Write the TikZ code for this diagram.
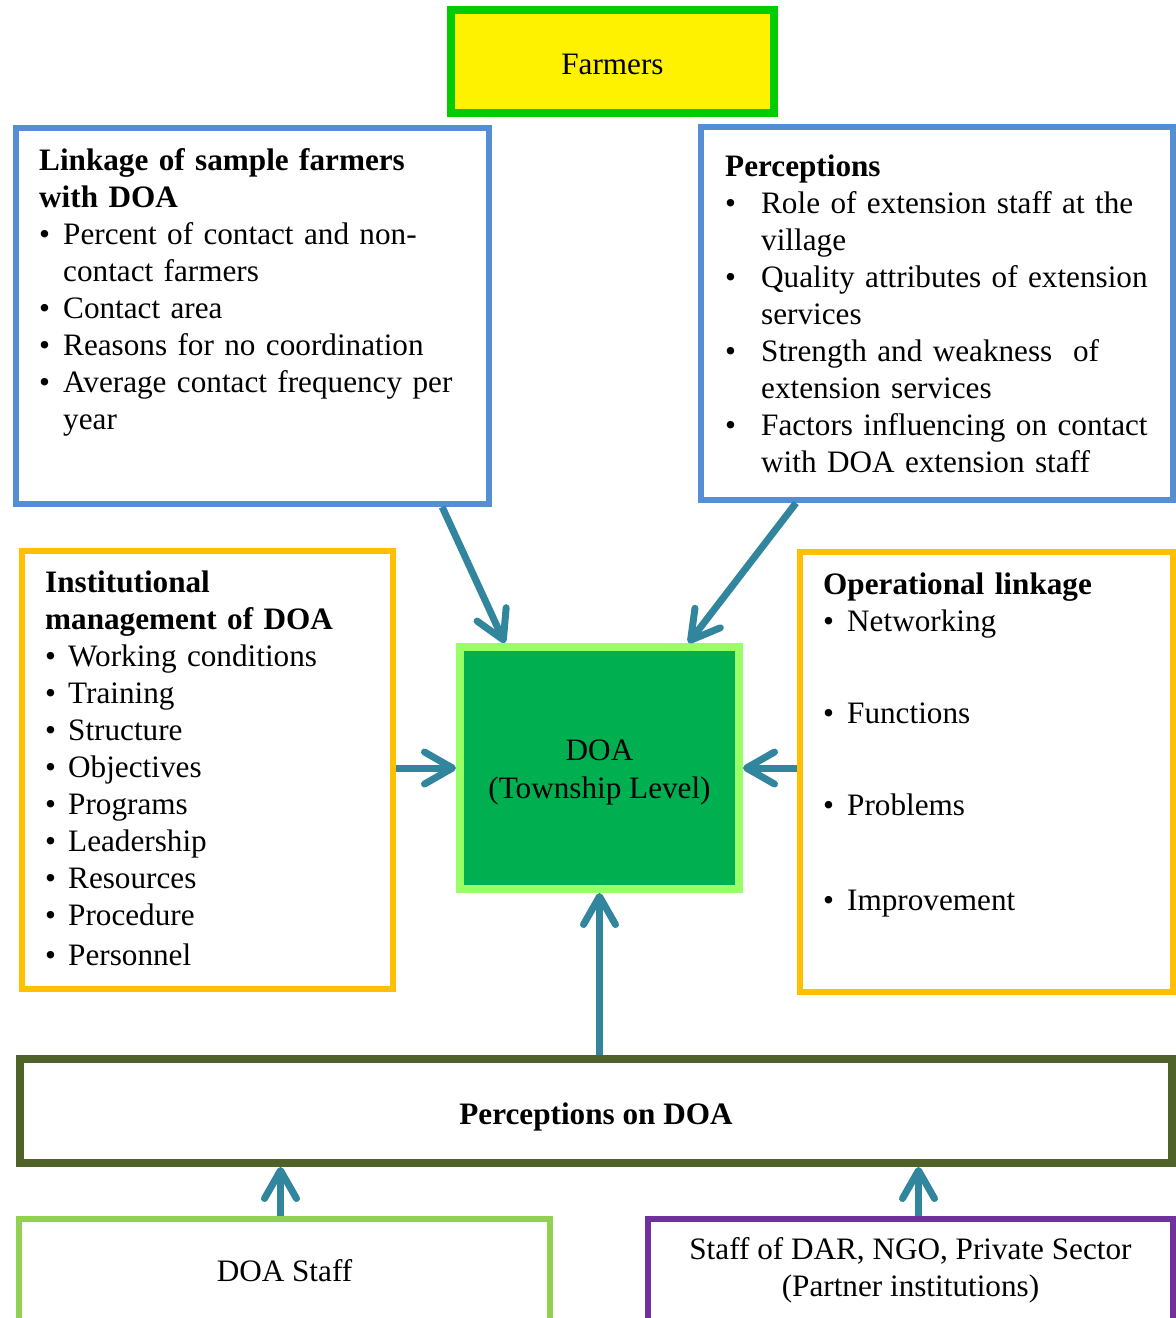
\documentclass[tikz,border=0pt]{standalone}
\usepackage{fontspec}
\setmainfont{Liberation Serif}
\usetikzlibrary{arrows.meta, calc}
\definecolor{boxblue}{HTML}{558ED5}
\definecolor{boxgold}{HTML}{FFC000}
\definecolor{arrowteal}{HTML}{31859C}
\definecolor{farmgreen}{HTML}{00CC00}
\definecolor{doafill}{HTML}{00B050}
\definecolor{doaline}{HTML}{99FF66}
\definecolor{darkolive}{HTML}{4F6228}
\definecolor{staffgreen}{HTML}{92D050}
\definecolor{partnerpurple}{HTML}{7030A0}
\def\bitem[#1]#2{\par\hangindent=#1\hangafter=1\noindent\makebox[#1][l]{\textbullet}#2\par}

\begin{document}
\begin{tikzpicture}[x=1pt, y=-1pt, font=\fontsize{31.2}{37}\selectfont,
	box/.style={draw=#1, line width=6pt, rectangle, inner sep=0pt},
	txt/.style={anchor=north west, inner sep=0pt, text width=#1, align=left},
	feed/.style={draw=arrowteal, line width=7pt, -{Straight Barb[length=28pt, width=32pt, round]}}]

	\useasboundingbox (0,0) rectangle (1176,1318);

	% Draw the top boxes
	\node[box=farmgreen, line width=8pt, fill=yellow, text height=26pt, text depth=0pt, minimum width=323pt, minimum height=103pt] (farm) at (612.5,61.5) {Farmers};
	\node[box=boxblue, minimum width=473pt, minimum height=376pt] (link) at (252.5,316) {};
	\node[txt=445pt] (link-txt) at ([shift={(26,23)}]link.north west) {%
		\textbf{Linkage of sample farmers\newline with DOA}
		\bitem[24pt]{Percent of contact and non-\newline contact farmers}
		\bitem[24pt]{Contact area}
		\bitem[24pt]{Reasons for no coordination}
		\bitem[24pt]{Average contact frequency per\newline year}};
	\node[box=boxblue, minimum width=472pt, minimum height=373pt] (perc) at (937,313.5) {};
	\node[txt=445pt] (perc-txt) at ([shift={(27,31)}]perc.north west) {%
		\textbf{Perceptions}
		\bitem[36pt]{Role of extension staff at the\newline village}
		\bitem[36pt]{Quality attributes of extension\newline services}
		\bitem[36pt]{Strength and weakness~ of\newline extension services}
		\bitem[36pt]{Factors influencing on contact\newline with DOA extension staff}};

	% Draw the middle row
	\node[box=boxgold, minimum width=371pt, minimum height=438pt] (inst) at (207.5,770) {};
	\node[txt=345pt] (inst-txt) at ([shift={(26,23)}]inst.north west) {%
		\textbf{Institutional\newline management of DOA}
		\bitem[23pt]{Working conditions}
		\bitem[23pt]{Training}
		\bitem[23pt]{Structure}
		\bitem[23pt]{Objectives}
		\bitem[23pt]{Programs}
		\bitem[23pt]{Leadership}
		\bitem[23pt]{Resources}
		\bitem[23pt]{Procedure}\vspace{3pt}
		\bitem[23pt]{Personnel}};
	\node[box=doaline, line width=8pt, fill=doafill, align=center, minimum width=279pt, minimum height=242pt] (doa) at (599.5,768) {\rule{0pt}{30pt}DOA\\[1pt](Township Level)};
	\node[box=boxgold, minimum width=373pt, minimum height=440pt] (oper) at (986.5,772) {};
	\node[txt=345pt] (oper-txt) at ([shift={(26,24)}]oper.north west) {%
		\textbf{Operational linkage}
		\bitem[24pt]{Networking}\vspace{55pt}
		\bitem[24pt]{Functions}\vspace{55pt}
		\bitem[24pt]{Problems}\vspace{58pt}
		\bitem[24pt]{Improvement}};

	% Draw the bottom boxes
	\node[box=darkolive, line width=8pt, text height=26pt, text depth=0pt, minimum width=1152pt, minimum height=104pt] (percdoa) at (596,1111) {\textbf{Perceptions on DOA}};
	\node[box=staffgreen, minimum width=531pt, minimum height=103pt] (staff) at (284.5,1270.5) {DOA Staff};
	\node[box=partnerpurple, align=center, minimum width=525pt, minimum height=103pt] (dar) at (910.5,1270.5) {Staff of DAR, NGO, Private Sector\\(Partner institutions)};

	% Arrows into DOA
	\draw[feed] ($(link.south west)!0.896!(link.south east)$) -- ($(doa.north west)!0.17!(doa.north east)$);
	\draw[feed] ($(perc.south west)!0.205!(perc.south east)$) -- ($(doa.north west)!0.81!(doa.north east)$);
	\draw[feed] (inst.east |- doa.west) -- (doa.west);
	\draw[feed] (oper.west |- doa.east) -- (doa.east);
	\draw[feed] (percdoa.north -| doa.south) -- (doa.south);

	% Arrows into the perceptions box
	\draw[feed] ([xshift=-4pt]staff.north) -- ([xshift=-4pt]staff.north |- percdoa.south);
	\draw[feed] ([xshift=8pt]dar.north) -- ([xshift=8pt]dar.north |- percdoa.south);

\end{tikzpicture}
\end{document}
